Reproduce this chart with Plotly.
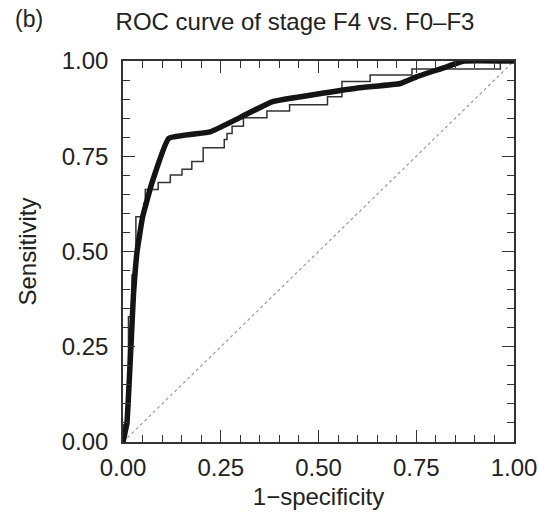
import plotly.graph_objects as go

# Empirical (step) ROC curve
emp_fpr = [0, 0, 0.014, 0.014, 0.023, 0.023, 0.033, 0.033, 0.053, 0.053, 0.057, 0.057,
           0.09, 0.09, 0.121, 0.121, 0.151, 0.151, 0.176, 0.176, 0.205, 0.205, 0.259, 0.259,
           0.266, 0.266, 0.279, 0.279, 0.308, 0.308, 0.368, 0.368, 0.426, 0.426, 0.523, 0.523,
           0.560, 0.560, 0.632, 0.632, 0.739, 0.739, 0.965, 0.965, 1.0]
emp_tpr = [0, 0.045, 0.045, 0.329, 0.329, 0.438, 0.438, 0.591, 0.591, 0.626, 0.626, 0.663,
           0.663, 0.681, 0.681, 0.701, 0.701, 0.716, 0.716, 0.736, 0.736, 0.772, 0.772, 0.794,
           0.794, 0.810, 0.810, 0.829, 0.829, 0.851, 0.851, 0.869, 0.869, 0.885, 0.885, 0.906,
           0.906, 0.946, 0.946, 0.963, 0.963, 0.979, 0.979, 1.0, 1.0]

# Fitted (smooth) ROC curve
fit_fpr = [0, 0.01, 0.027, 0.036, 0.05, 0.074, 0.117, 0.223, 0.30, 0.381, 0.60, 0.709,
           0.752, 0.82, 0.871, 1.0]
fit_tpr = [0, 0.05, 0.39, 0.50, 0.59, 0.68, 0.797, 0.814, 0.852, 0.893, 0.929, 0.941,
           0.959, 0.982, 1.0, 1.0]

# Chance line
diag = [0, 1]

tick_vals = [0, 0.25, 0.5, 0.75, 1.0]
tick_text = ["0.00", "0.25", "0.50", "0.75", "1.00"]

FONT = "Liberation Sans, Arial, Helvetica, sans-serif"

W, H = 539, 519

fig = go.Figure()
fig.add_trace(go.Scatter(x=diag, y=diag, mode="lines",
                         line=dict(color="#9a9a9a", width=1.2, dash="dot"),
                         showlegend=False, hoverinfo="skip"))
fig.add_trace(go.Scatter(x=emp_fpr, y=emp_tpr, mode="lines",
                         line=dict(color="#333333", width=1.5),
                         showlegend=False))
fig.add_trace(go.Scatter(x=fit_fpr, y=fit_tpr, mode="lines",
                         line=dict(color="#141414", width=5.5, shape="spline", smoothing=0.3),
                         showlegend=False))

axis_common = dict(
    range=[0, 1], tickvals=tick_vals, ticktext=tick_text,
    ticks="inside", ticklen=12, tickwidth=1.3, tickcolor="#333",
    minor=dict(ticks="inside", dtick=0.05, ticklen=7, tickwidth=1.2, tickcolor="#333"),
    showline=True, linecolor="#333", linewidth=1.5, mirror="ticks",
    showgrid=False, zeroline=False, automargin=False,
    tickfont=dict(family=FONT, size=24, color="#222"),
)

fig.update_layout(
    width=W, height=H,
    margin=dict(l=123, r=25, t=61, b=77),
    paper_bgcolor="white", plot_bgcolor="white",
    xaxis=dict(**axis_common, ticklabelstandoff=3,
               title=dict(text="1\u2212specificity", font=dict(family=FONT, size=24, color="#222"),
                          standoff=9)),
    yaxis=dict(**axis_common, ticklabelstandoff=8,
               title=dict(text="Sensitivity", font=dict(family=FONT, size=24, color="#222"),
                          standoff=18)),
    title=dict(text="ROC curve of stage F4 vs. F0\u2013F3", xref="container", x=295 / W,
               xanchor="center", yref="container", y=1 - 22 / H, yanchor="middle",
               font=dict(family=FONT, size=24, color="#222")),
    annotations=[dict(text="(b)", xref="paper", yref="paper",
                      x=(29 - 123) / 391, y=(442 - 19) / 381,
                      xanchor="center", yanchor="middle", showarrow=False,
                      font=dict(family=FONT, size=23, color="#222"))],
)

# remove the default page margin so the figure fills the window exactly
fig.write_html("out.html", config={"displayModeBar": False},
               post_script="document.body.style.margin='0';document.body.style.overflow='hidden';")
